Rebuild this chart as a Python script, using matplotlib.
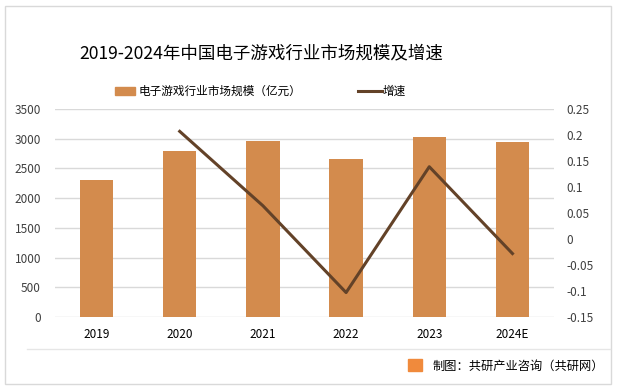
import matplotlib
matplotlib.use('Agg')
import matplotlib.pyplot as plt
from matplotlib.patches import Rectangle
from matplotlib.lines import Line2D

plt.rcParams['font.family'] = ['Noto Sans CJK SC', 'DejaVu Sans']

years = ['2019', '2020', '2021', '2022', '2023', '2024E']
market_size = [2309, 2787, 2965, 2659, 3030, 2945]
growth_years = ['2020', '2021', '2022', '2023', '2024E']
growth = [0.207, 0.064, -0.103, 0.139, -0.028]

bar_color = '#D38B4D'
line_color = '#634228'
text_color = '#404040'

fig = plt.figure(figsize=(6.17, 3.9), dpi=100)
ax = fig.add_axes([0.089, 0.1872, 0.809, 0.5333])

x = list(range(len(years)))
ax.bar(x, market_size, width=0.4, color=bar_color, zorder=2)
ax.set_ylim(0, 3500)
ax.set_xlim(-0.5, len(years) - 0.5)
ax.set_yticks(range(0, 3501, 500))
ax.set_xticks(x)
ax.set_xticklabels(years, color='black', fontsize=8.5)
ax.tick_params(axis='x', length=0, pad=8)
ax.tick_params(axis='y', length=0, pad=10, labelsize=8.5, labelcolor=text_color)
ax.grid(axis='y', color='#D9D9D9', linewidth=1, zorder=0)
for s in ax.spines.values():
    s.set_visible(False)

ax2 = ax.twinx()
gx = [years.index(y) for y in growth_years]
ax2.plot(gx, growth, color=line_color, linewidth=2.2, zorder=3)
ax2.set_ylim(-0.15, 0.25)
ax2.set_yticks([-0.15, -0.1, -0.05, 0, 0.05, 0.1, 0.15, 0.2, 0.25])
ax2.set_yticklabels(['-0.15', '-0.1', '-0.05', '0', '0.05', '0.1', '0.15', '0.2', '0.25'])
ax2.tick_params(axis='y', length=0, pad=9, labelsize=8.5, labelcolor=text_color)
for s in ax2.spines.values():
    s.set_visible(False)

# title
fig.text(0.424, 0.862, '2019-2024年中国电子游戏行业市场规模及增速', ha='center', va='center',
         fontsize=12.6, color='black')

# legend
fig.patches.append(Rectangle((115 / 617, 1 - 95 / 390), 20 / 617, 8 / 390,
                             transform=fig.transFigure, color=bar_color))
fig.text(139 / 617, 1 - 91 / 390, '电子游戏行业市场规模（亿元）', va='center', fontsize=8.4, color='black')
fig.lines.append(Line2D([358 / 617, 382 / 617], [1 - 91 / 390, 1 - 91 / 390],
                        transform=fig.transFigure, color=line_color, linewidth=2.2))
fig.text(383 / 617, 1 - 91 / 390, '增速', va='center', fontsize=8.4, color='black')

# footer
fig.lines.append(Line2D([27 / 617, 610 / 617], [1 - 349 / 390, 1 - 349 / 390],
                        transform=fig.transFigure, color='#E6E6E6', linewidth=1))
fig.patches.append(Rectangle((408 / 617, 1 - 371 / 390), 14 / 617, 12 / 390,
                             transform=fig.transFigure, color='#F08A3C'))
fig.text(432 / 617, 1 - 366 / 390, '制图：共研产业咨询（共研网）', va='center', fontsize=8.8, color='black')

# border
fig.patches.append(Rectangle((5 / 617, 1 - 384 / 390), 606 / 617, 378 / 390,
                             transform=fig.transFigure, fill=False, edgecolor='#D9D9D9', linewidth=1))

fig.savefig('out.png', dpi=100)
